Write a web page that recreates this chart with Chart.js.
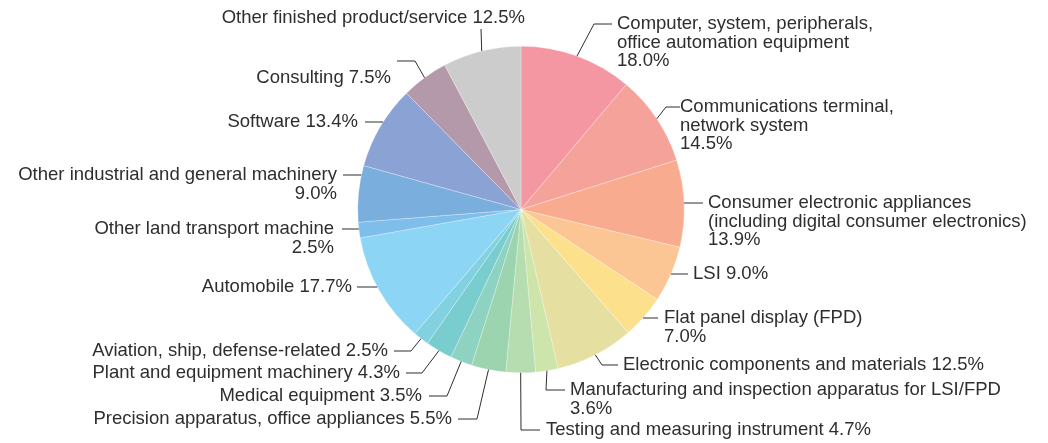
<!DOCTYPE html>
<html lang="en">
<head>
    <meta charset="UTF-8">
    <title>Fields of business</title>
    <script src="https://cdn.jsdelivr.net/npm/chart.js"></script>
    <style>
        html, body {
            margin: 0;
            padding: 0;
            background: #fff;
        }
        #wrap {
            width: 1048px;
            height: 443px;
        }
    </style>
</head>
<body>
    <div id="wrap"><canvas id="pieChart" width="1048" height="443"></canvas></div>

    <script>
        // categories, clockwise from 12 o'clock
        const categories = [
            ['Computer, system, peripherals,', 'office automation equipment'],
            ['Communications terminal,', 'network system'],
            ['Consumer electronic appliances', '(including digital consumer electronics)'],
            ['LSI'],
            ['Flat panel display (FPD)'],
            ['Electronic components and materials'],
            ['Manufacturing and inspection apparatus for LSI/FPD'],
            ['Testing and measuring instrument'],
            ['Precision apparatus, office appliances'],
            ['Medical equipment'],
            ['Plant and equipment machinery'],
            ['Aviation, ship, defense-related'],
            ['Automobile'],
            ['Other land transport machine'],
            ['Other industrial and general machinery'],
            ['Software'],
            ['Consulting'],
            ['Other finished product/service']
        ];
        const shares = [18.0, 14.5, 13.9, 9.0, 7.0, 12.5, 3.6, 4.7, 5.5, 3.5, 4.3, 2.5, 17.7, 2.5, 9.0, 13.4, 7.5, 12.5];

        const palette = [
            '#f497a3', '#f5a29a', '#f8ab8e', '#fbc693', '#fde08c', '#e5e0a1',
            '#cde4aa', '#b6ddb0', '#9bd4ae', '#8ed2c1', '#79cdcf', '#81d1e0',
            '#8dd5f5', '#7ebeeb', '#7aaedd', '#8ba2d4', '#b499ab', '#cccccc'
        ];

        // label placement: text anchor, alignment, leader route
        // start: 'mid' = arc point at slice middle, 'y' = arc point level with the first text line
        const labelLayout = [
            {x: 617, y: 24, align: 'left', pctOwnLine: true, start: 'mid', route: [[594, 24], [612, 24]]},
            {x: 680, y: 107, align: 'left', pctOwnLine: true, start: 'mid', route: [[666, 107], [680, 107]]},
            {x: 708, y: 203, align: 'left', pctOwnLine: true, start: 'y', route: [[703, 203]]},
            {x: 693, y: 274, align: 'left', pctOwnLine: false, start: 'y', route: [[688, 274]]},
            {x: 664, y: 318, align: 'left', pctOwnLine: true, start: 'y', route: [[658, 318]]},
            {x: 623, y: 365, align: 'left', pctOwnLine: false, start: 'mid', route: [[602, 365], [618, 365]]},
            {x: 570, y: 390, align: 'left', pctOwnLine: true, start: 'mid', route: [[546, 390], [565, 390]]},
            {x: 546, y: 430, align: 'left', pctOwnLine: false, start: 'mid', route: [[521, 430], [540, 430]]},
            {x: 452, y: 419, align: 'right', pctOwnLine: false, start: 'mid', route: [[477, 419], [458, 419]]},
            {x: 422, y: 396, align: 'right', pctOwnLine: false, start: 'mid', route: [[447, 396], [429, 396]]},
            {x: 400, y: 373, align: 'right', pctOwnLine: false, start: 'mid', route: [[422, 373], [406, 373]]},
            {x: 388, y: 351, align: 'right', pctOwnLine: false, start: 'mid', route: [[411, 351], [394, 351]]},
            {x: 352, y: 287, align: 'right', pctOwnLine: false, start: 'y', route: [[357, 287]]},
            {x: 334, y: 229, align: 'right', pctOwnLine: true, start: 'y', route: [[342, 229]]},
            {x: 337, y: 175, align: 'right', pctOwnLine: true, start: 'y', route: [[343, 175]]},
            {x: 358, y: 122, align: 'right', pctOwnLine: false, start: 'y', route: [[365, 122]]},
            {x: 391, y: 78, align: 'right', pctOwnLine: false, start: 'mid', route: [[415, 61], [397, 61]]},
            {x: 525, y: 18, align: 'right', pctOwnLine: false, start: 'mid', route: [[481, 29]]}
        ];

        const LINE_H = 18.5;
        const TEXT_COLOR = '#2e2e2e';

        // draws the callout text and leader lines around the pie
        const calloutPlugin = {
            id: 'callouts',
            afterDraw(chart) {
                const ctx = chart.ctx;
                const arcs = chart.getDatasetMeta(0).data;
                ctx.save();
                ctx.font = '18.5px "Liberation Sans", Arial, sans-serif';
                ctx.fillStyle = TEXT_COLOR;
                ctx.strokeStyle = TEXT_COLOR;
                ctx.lineWidth = 1;
                ctx.textBaseline = 'middle';

                labelLayout.forEach((lay, i) => {
                    const arc = arcs[i];
                    const r = arc.outerRadius;
                    const mid = (arc.startAngle + arc.endAngle) / 2;
                    let sx, sy;
                    if (lay.start === 'y') {
                        const side = Math.cos(mid) >= 0 ? 1 : -1;
                        sy = lay.route[lay.route.length - 1][1];
                        sx = arc.x + side * Math.sqrt(Math.max(r * r - (sy - arc.y) * (sy - arc.y), 0));
                    } else {
                        sx = arc.x + r * Math.cos(mid);
                        sy = arc.y + r * Math.sin(mid);
                    }
                    ctx.beginPath();
                    ctx.moveTo(sx, sy);
                    lay.route.forEach(p => ctx.lineTo(p[0], p[1]));
                    ctx.stroke();

                    const pct = shares[i].toFixed(1) + '%';
                    const lines = categories[i].slice();
                    if (lay.pctOwnLine) {
                        lines.push(pct);
                    } else {
                        lines[lines.length - 1] += ' ' + pct;
                    }
                    ctx.textAlign = lay.align;
                    lines.forEach((t, k) => ctx.fillText(t, lay.x, lay.y + k * LINE_H));
                });
                ctx.restore();
            }
        };

        const ctx = document.getElementById('pieChart').getContext('2d');
        new Chart(ctx, {
            type: 'pie',
            data: {
                labels: categories,
                datasets: [{
                    data: shares,
                    backgroundColor: palette,
                    borderColor: 'rgba(255,255,255,0.7)',
                    borderWidth: 0.4,
                    hoverOffset: 0
                }]
            },
            options: {
                responsive: false,
                animation: false,
                layout: {
                    padding: {top: 46, bottom: 70, left: 200, right: 206}
                },
                plugins: {
                    legend: {display: false},
                    tooltip: {enabled: false}
                }
            },
            plugins: [calloutPlugin]
        });
    </script>
</body>
</html>
